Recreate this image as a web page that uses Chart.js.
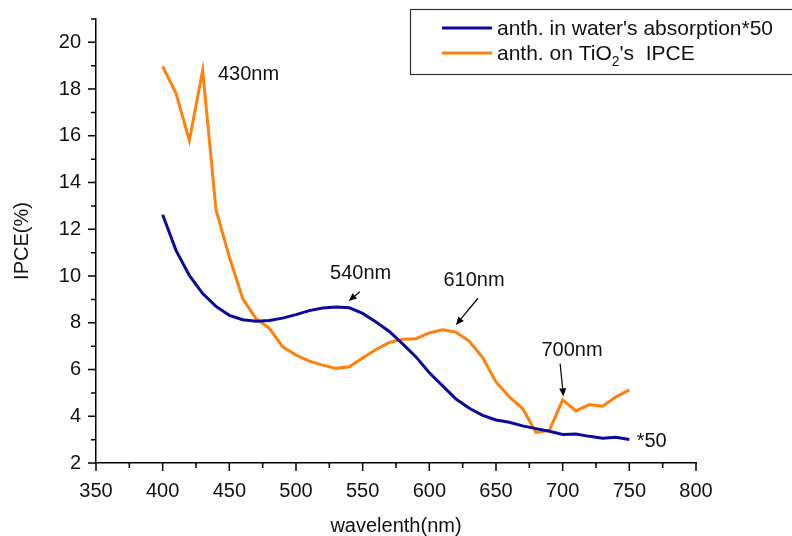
<!DOCTYPE html>
<html>
<head>
<meta charset="utf-8">
<script src="https://cdn.jsdelivr.net/npm/chart.js@4.4.1/dist/chart.umd.min.js"></script>
<style>
  html, body { margin: 0; padding: 0; background: #fff; }
  #wrap { width: 792px; height: 536px; }
</style>
</head>
<body>
<div id="wrap"><canvas id="myChart" width="792" height="536"></canvas></div>
<script>
// wavelength grid (nm)
const wavelength = [400, 410, 420, 430, 440, 450, 460, 470, 480, 490, 500, 510,
  520, 530, 540, 550, 560, 570, 580, 590, 600, 610, 620, 630,
  640, 650, 660, 670, 680, 690, 700, 710, 720, 730, 740, 750];

// anthocyanin in water, absorption scaled by 50
const absorption = [12.62, 11.10, 10.03, 9.25, 8.70, 8.32, 8.13, 8.07, 8.10, 8.20, 8.35, 8.52,
  8.63, 8.68, 8.64, 8.40, 8.03, 7.63, 7.10, 6.54, 5.86, 5.30, 4.74, 4.34,
  4.04, 3.84, 3.74, 3.59, 3.47, 3.36, 3.22, 3.24, 3.14, 3.06, 3.10, 3.01];

// anthocyanin on TiO2, IPCE (%)
const ipce = [18.97, 17.82, 15.80, 18.80, 12.84, 10.82, 9.04, 8.18, 7.76, 6.97, 6.62, 6.36,
  6.19, 6.05, 6.12, 6.49, 6.86, 7.16, 7.30, 7.32, 7.57, 7.70, 7.60, 7.21,
  6.51, 5.47, 4.83, 4.33, 3.31, 3.40, 4.70, 4.23, 4.50, 4.43, 4.83, 5.13];

const xTicks = [350, 400, 450, 500, 550, 600, 650, 700, 750, 800];
const yTicks = [2, 4, 6, 8, 10, 12, 14, 16, 18, 20];

const seriesLabels = ["anth. in water's absorption*50", "anth. on TiO2's  IPCE"];

const FONT = "'Liberation Sans', Arial, sans-serif";
const BLUE = '#0a0a9c';
const ORANGE = '#ff800a';

// text notes on the plot, in data coordinates
const notes = [
  { text: '430nm', x: 441.5, y: 18.62, align: 'left' },
  { text: '540nm', x: 548.5, y: 10.13, align: 'center' },
  { text: '610nm', x: 633.5, y: 9.83, align: 'center' },
  { text: '700nm', x: 707, y: 6.80, align: 'center' },
  { text: '*50', x: 755.5, y: 2.92, align: 'left' }
];
const arrows = [
  { from: [547.9, 9.33], to: [539.5, 8.93] },
  { from: [636.5, 9.05], to: [620.0, 7.91] },
  { from: [698.1, 6.25], to: [700.6, 4.85] }
];

function pts(ys) {
  return wavelength.map((w, i) => ({ x: w, y: ys[i] }));
}

// outward major/minor tick marks on both axes
const tickMarks = {
  id: 'tickMarks',
  afterDraw(chart) {
    const ctx = chart.ctx;
    const xs = chart.scales.x, ys = chart.scales.y;
    const area = chart.chartArea;
    ctx.save();
    ctx.strokeStyle = '#000';
    ctx.lineWidth = 1.5;
    ctx.beginPath();
    for (let v = 350; v <= 800; v += 25) {
      const px = xs.getPixelForValue(v);
      const len = (v % 50 === 0) ? 8 : 5;
      ctx.moveTo(px, area.bottom);
      ctx.lineTo(px, area.bottom + len);
    }
    for (let v = 2; v <= 21; v += 1) {
      const py = ys.getPixelForValue(v);
      const len = (v % 2 === 0) ? 8 : 5;
      ctx.moveTo(area.left, py);
      ctx.lineTo(area.left - len, py);
    }
    ctx.stroke();
    ctx.restore();
  }
};

// framed legend with a subscript in TiO2
const boxLegend = {
  id: 'boxLegend',
  afterDraw(chart) {
    const ctx = chart.ctx;
    ctx.save();
    ctx.strokeStyle = '#333';
    ctx.lineWidth = 1.2;
    ctx.strokeRect(410.5, 9.5, 400, 65);
    const rows = [28, 53];
    chart.data.datasets.forEach((ds, i) => {
      ctx.strokeStyle = ds.borderColor;
      ctx.lineWidth = 3;
      ctx.beginPath();
      ctx.moveTo(442, rows[i]);
      ctx.lineTo(492, rows[i]);
      ctx.stroke();
    });
    ctx.fillStyle = '#111';
    ctx.textBaseline = 'alphabetic';
    ctx.font = '21px ' + FONT;
    const base0 = rows[0] + 7, base1 = rows[1] + 7;
    ctx.fillText(seriesLabels[0], 497, base0);
    // second label: "anth. on TiO" + subscript 2 + "'s  IPCE"
    const head = 'anth. on TiO';
    ctx.fillText(head, 497, base1);
    let x = 497 + ctx.measureText(head).width;
    ctx.font = '14px ' + FONT;
    ctx.fillText('2', x, base1 + 6);
    x += ctx.measureText('2').width;
    ctx.font = '21px ' + FONT;
    ctx.fillText("'s  IPCE", x, base1);
    ctx.restore();
  }
};

// wavelength notes and arrows
const notesPlugin = {
  id: 'notes',
  afterDraw(chart) {
    const ctx = chart.ctx;
    const xs = chart.scales.x, ys = chart.scales.y;
    ctx.save();
    ctx.fillStyle = '#111';
    ctx.font = '20px ' + FONT;
    ctx.textBaseline = 'middle';
    notes.forEach(n => {
      ctx.textAlign = n.align;
      ctx.fillText(n.text, xs.getPixelForValue(n.x), ys.getPixelForValue(n.y));
    });
    ctx.strokeStyle = '#000';
    ctx.lineWidth = 1.2;
    arrows.forEach(a => {
      const x0 = xs.getPixelForValue(a.from[0]), y0 = ys.getPixelForValue(a.from[1]);
      const x1 = xs.getPixelForValue(a.to[0]), y1 = ys.getPixelForValue(a.to[1]);
      const ang = Math.atan2(y1 - y0, x1 - x0);
      const hl = 8, hw = 3.5;
      const bx = x1 - hl * Math.cos(ang), by = y1 - hl * Math.sin(ang);
      ctx.beginPath();
      ctx.moveTo(x0, y0);
      ctx.lineTo(bx, by);
      ctx.stroke();
      ctx.beginPath();
      ctx.moveTo(x1, y1);
      ctx.lineTo(bx + hw * Math.sin(ang), by - hw * Math.cos(ang));
      ctx.lineTo(bx - hw * Math.sin(ang), by + hw * Math.cos(ang));
      ctx.closePath();
      ctx.fillStyle = '#000';
      ctx.fill();
    });
    ctx.restore();
  }
};

const ctx = document.getElementById('myChart').getContext('2d');

const config = {
  type: 'line',
  data: {
    datasets: [{
      label: seriesLabels[0],
      data: pts(absorption),
      borderColor: BLUE,
      borderWidth: 3,
      pointRadius: 0,
      tension: 0
    }, {
      label: seriesLabels[1],
      data: pts(ipce),
      borderColor: ORANGE,
      borderWidth: 3,
      pointRadius: 0,
      tension: 0
    }]
  },
  options: {
    responsive: false,
    animation: false,
    layout: { padding: { top: 10, right: 96, left: 0, bottom: 0 } },
    plugins: {
      legend: { display: false },
      tooltip: { enabled: false }
    },
    scales: {
      x: {
        type: 'linear',
        min: 350,
        max: 800,
        afterBuildTicks: s => { s.ticks = xTicks.map(v => ({ value: v })); },
        afterFit: s => { s.height = 73; },
        grid: { display: false },
        border: { display: true, color: '#000', width: 1.5 },
        ticks: { padding: 8, color: '#111', font: { family: FONT, size: 20 }, maxRotation: 0 },
        title: { display: true, text: 'wavelenth(nm)', color: '#111',
          font: { family: FONT, size: 20, lineHeight: 1 }, padding: { top: 0, bottom: 0 } }
      },
      y: {
        type: 'linear',
        min: 2,
        max: 21,
        afterBuildTicks: s => { s.ticks = yTicks.map(v => ({ value: v })); },
        afterFit: s => { s.width = 96; },
        grid: { display: false },
        border: { display: true, color: '#000', width: 1.5 },
        ticks: { padding: 7, color: '#111', font: { family: FONT, size: 20 } },
        title: { display: true, text: 'IPCE(%)', color: '#111',
          font: { family: FONT, size: 20 }, padding: { top: 10, bottom: 0 } }
      }
    }
  },
  plugins: [tickMarks, boxLegend, notesPlugin]
};

const myChart = new Chart(ctx, config);
</script>
</body>
</html>
